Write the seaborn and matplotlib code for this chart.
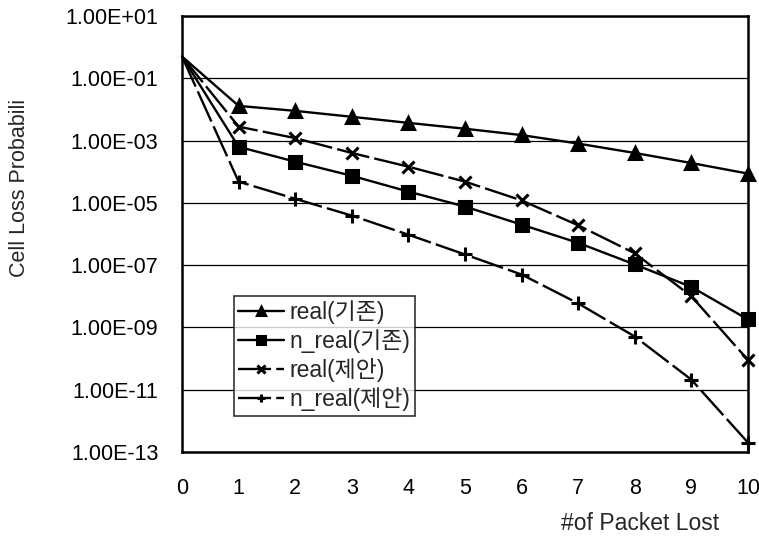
import numpy as np
import pandas as pd
import matplotlib
matplotlib.use("Agg")
import matplotlib.pyplot as plt
import seaborn as sns

sns.set_theme(style="white")
plt.rcParams['font.family'] = ['Liberation Sans', 'Noto Sans CJK KR', 'DejaVu Sans']

x_vals = [0, 1, 2, 3, 4, 5, 6, 7, 8, 9, 10]
real_old = [0.5, 1.3e-2, 9e-3, 5.8e-3, 3.7e-3, 2.4e-3, 1.5e-3, 8e-4, 4e-4, 1.9e-4, 8.7e-5]
nreal_old = [0.5, 6.3e-4, 2.1e-4, 7.4e-5, 2.3e-5, 7.6e-6, 2e-6, 5.2e-7, 1.05e-7, 2e-8, 1.8e-9]
real_new = [0.5, 2.8e-3, 1.2e-3, 4e-4, 1.45e-4, 4.8e-5, 1.2e-5, 1.9e-6, 2.4e-7, 1e-8, 9e-11]
nreal_new = [0.5, 4.8e-5, 1.35e-5, 3.9e-6, 9.5e-7, 2.2e-7, 5e-8, 5.9e-9, 5.1e-10, 2.1e-11, 2e-13]
labels = ['real(기존)', 'n_real(기존)', 'real(제안)', 'n_real(제안)']
ytick_vals = [1e1, 1e-1, 1e-3, 1e-5, 1e-7, 1e-9, 1e-11, 1e-13]
ytick_labels = ['1.00E+01', '1.00E-01', '1.00E-03', '1.00E-05', '1.00E-07',
                '1.00E-09', '1.00E-11', '1.00E-13']

series = [real_old, nreal_old, real_new, nreal_new]
styles = [
    dict(marker='^', dashes=None, ms=8),
    dict(marker='s', dashes=None, ms=8),
    dict(marker='x', dashes=(14, 2.2), ms=8),
    dict(marker='+', dashes=(14, 2.2), ms=10),
]

fig = plt.figure(figsize=(7.59, 5.39), dpi=100)
ax = fig.add_axes([0.2398, 0.1614, 0.7457, 0.8089])

for vals, lab, st in zip(series, labels, styles):
    df = pd.DataFrame({'x': x_vals, 'y': vals})
    sns.lineplot(data=df, x='x', y='y', ax=ax, color='black', linewidth=1.7,
                 marker=st['marker'], markersize=st['ms'], markeredgewidth=2.2,
                 markeredgecolor='black', markerfacecolor='black', label=lab,
                 markevery=list(range(1, len(x_vals))), clip_on=False, zorder=3)
    ln = ax.get_lines()[-1]
    if st['dashes']:
        ln.set_dashes(st['dashes'])

ax.set_yscale('log')
ax.set_ylim(1e-13, 1e1)
ax.set_xlim(0, 10)
ax.set_yticks(ytick_vals)
ax.set_yticklabels(ytick_labels, fontsize=15.5)
ax.yaxis.set_minor_locator(matplotlib.ticker.NullLocator())
ax.set_xticks(x_vals)
ax.set_xticklabels([str(v) for v in x_vals], fontsize=15.5)
ax.tick_params(axis='x', direction='in', length=4, width=1.2, pad=19, colors='black')
ax.tick_params(axis='y', length=0, pad=17, colors='black')
ax.grid(axis='y', color='black', linewidth=0.9)
for sp in ax.spines.values():
    sp.set_color('black')
    sp.set_linewidth(1.8)

ax.set_xlabel('')
ax.set_ylabel('')
fig.text(20 / 759, 1 - 188 / 539, 'Cell Loss Probabili', fontsize=15.5,
         rotation=90, ha='center', va='center')
fig.text(640 / 759, 1 - 523 / 539, '#of Packet Lost', fontsize=16.5,
         ha='center', va='center')

leg = ax.legend(loc='upper left', bbox_to_anchor=(0.091, 0.358), fontsize=16.5,
                frameon=True, fancybox=False, edgecolor='black', handlelength=2.0,
                handletextpad=0.25, borderpad=0.2, labelspacing=0.22, borderaxespad=0)
leg.get_frame().set_linewidth(1.2)
for h in leg.get_lines():
    h.set_markersize(5.5)

fig.savefig('out.png', dpi=100)
